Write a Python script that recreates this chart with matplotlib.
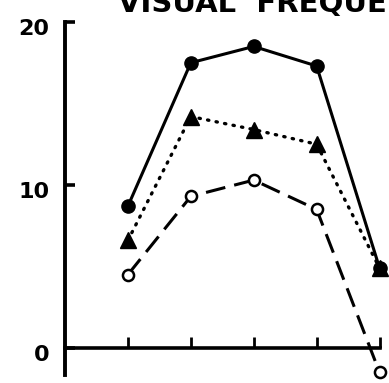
import matplotlib
matplotlib.use("Agg")
import matplotlib.pyplot as plt
import matplotlib.transforms as mtransforms

# five stimulus conditions along the x axis, three response series
x_pos = [1, 2, 3, 4, 5]
solid_vals = [8.7, 17.5, 18.5, 17.3, 4.9]
dotted_vals = [6.6, 14.2, 13.4, 12.5, 4.9]
dashed_vals = [4.5, 9.3, 10.3, 8.5, -1.5]
y_ticks = [0, 10, 20]
title_text = "VISUAL  FREQUENCY"

fig = plt.figure(figsize=(3.89, 3.83), dpi=100)
ax = fig.add_axes([65 / 389, 8 / 383, 324 / 389, 353 / 383])

ax.plot(x_pos, solid_vals, color="black", lw=2.2, ls="-",
        marker="o", ms=9.5, mfc="black", mec="black", clip_on=False, zorder=3)
ax.plot(x_pos, dotted_vals, color="black", lw=2.4, ls=(0, (0.4, 2.2)),
        dash_capstyle="round", marker="^", ms=12, mfc="black", mec="black",
        clip_on=False, zorder=4)
ax.plot(x_pos, dashed_vals, color="black", lw=2.2, ls=(0, (6.5, 3)),
        marker="o", ms=8, mfc="white", mec="black", mew=1.8,
        clip_on=False, zorder=3)

ax.set_xlim(0, 5.15)
ax.set_ylim(-1.66, 20)

for side in ("top", "right"):
    ax.spines[side].set_visible(False)
ax.spines["left"].set_linewidth(2.8)
ax.spines["bottom"].set_linewidth(2.6)
ax.spines["bottom"].set_position(("data", 0))
ax.spines["bottom"].set_bounds(0, 5)

ax.set_xticks(x_pos)
ax.set_xticklabels([])
ax.tick_params(axis="x", direction="in", length=8, width=2)
ax.set_yticks(y_ticks)
ax.set_yticklabels([str(v) for v in y_ticks], fontsize=16, fontweight="bold")
ax.tick_params(axis="y", direction="in", length=7.5, width=2.6, pad=11)

# the numbers sit a little below their ticks
shift = mtransforms.ScaledTranslation(0, -5 / 100, fig.dpi_scale_trans)
for lab in ax.get_yticklabels():
    lab.set_transform(lab.get_transform() + shift)

# heading runs past the top edge of the figure
fig.text(118 / 389, 1 - 12 / 383, title_text, fontsize=21, fontweight="bold",
         ha="left", va="baseline")

fig.savefig("out.png", dpi=100)
